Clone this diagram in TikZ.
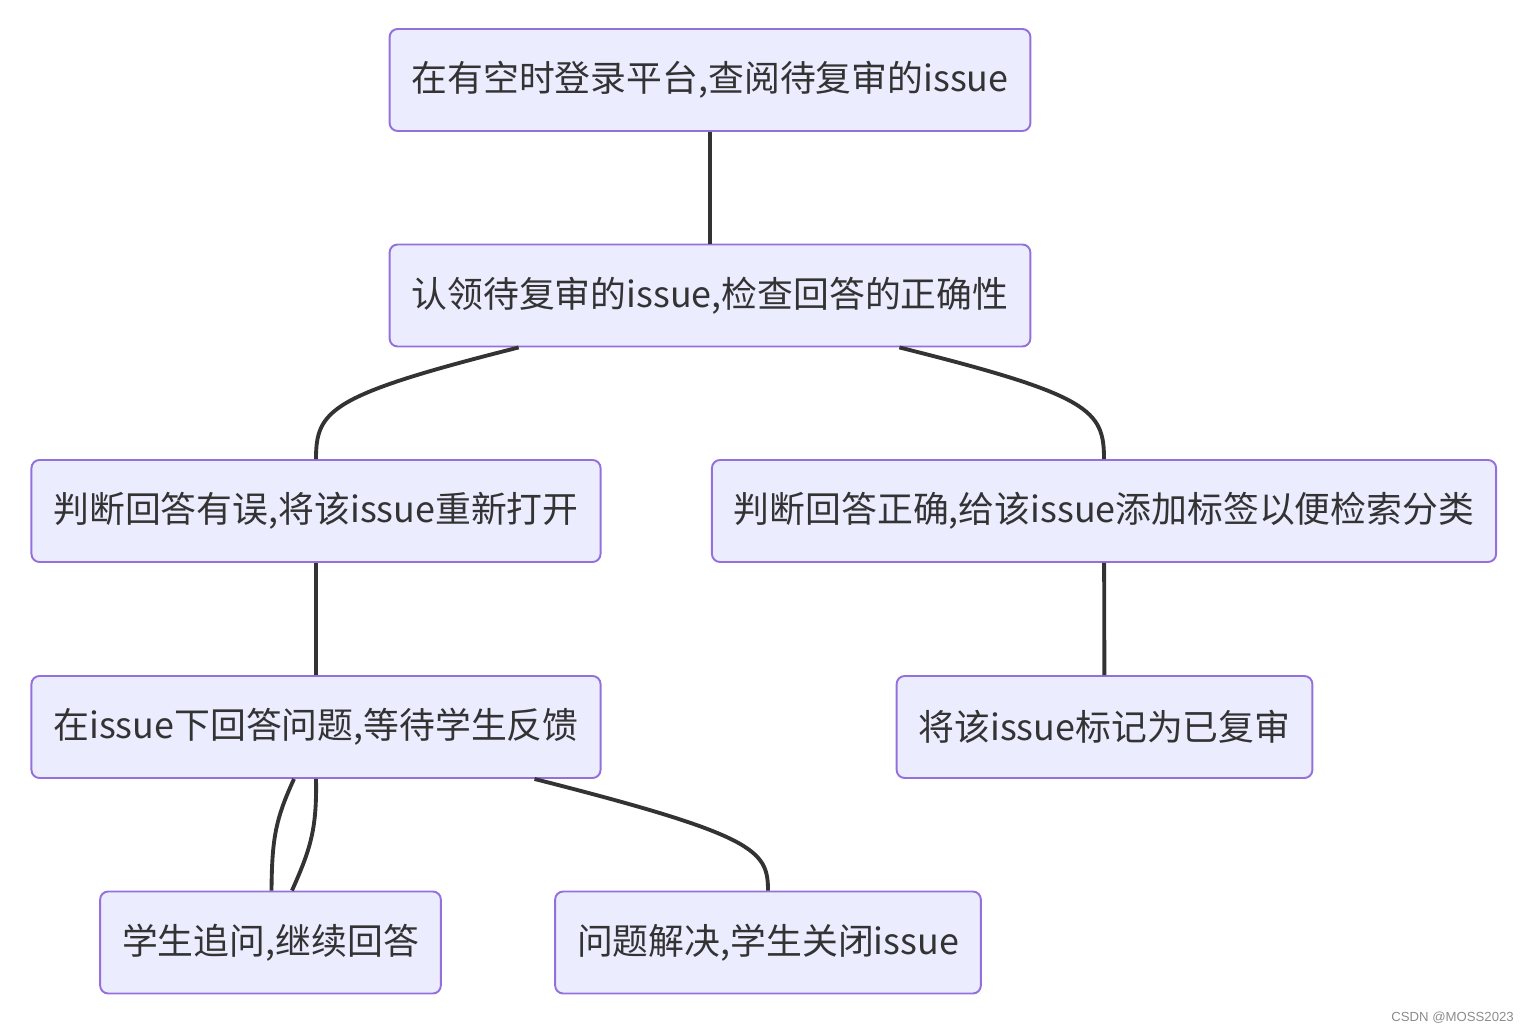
\documentclass[tikz,border=0pt]{standalone}
\usepackage{fontspec}
\newfontfamily\cjk{Noto Sans CJK SC}
\setsansfont{Liberation Sans}
\definecolor{kastenfarbe}{HTML}{ECECFF}
\definecolor{randfarbe}{HTML}{9370DB}
\definecolor{linienfarbe}{HTML}{333333}
\tikzset{
    kasten/.style={draw=randfarbe, fill=kastenfarbe, line width=1.1pt, rounded corners=0.16cm,
        minimum height=2.04cm, inner xsep=0.44cm, text=linienfarbe,
        font=\cjk\fontsize{20.4}{24}\selectfont},
    linie/.style={draw=linienfarbe, line width=2.2pt}
}
\begin{document}
\begin{tikzpicture}[x=0.02cm, y=-0.02cm]
        \useasboundingbox (0,0) rectangle (1530,1033);

        % Kaesten
        \node [kasten] (anmelden) at (710,80) {在有空时登录平台,查阅待复审的issue};
        \node [kasten] (pruefen) at (710,295.5) {认领待复审的issue,检查回答的正确性};
        \node [kasten] (falsch) at (316,511) {判断回答有误,将该issue重新打开};
        \node [kasten] (richtig) at (1104,511) {判断回答正确,给该issue添加标签以便检索分类};
        \node [kasten] (antwort) at (316,727) {在issue下回答问题,等待学生反馈};
        \node [kasten] (markiert) at (1104.5,727) {将该issue标记为已复审};
        \node [kasten] (nachfrage) at (270.5,942.5) {学生追问,继续回答};
        \node [kasten] (geloest) at (768,942.5) {问题解决,学生关闭issue};

        % Verbindungen, gerade
        \draw [linie] (anmelden) -- (pruefen);
        \draw [linie] (falsch) -- (antwort);
        \draw [linie] (richtig) -- (markiert);

        % Verbindungen, gebogen
        \draw [linie] ([xshift=2.6cm]pruefen.south west) .. controls (330,395) and (316,410) .. (falsch.north);
        \draw [linie] ([xshift=-2.64cm]pruefen.south east) .. controls (1090,395) and (1104,410) .. (richtig.north);
        \draw [linie] ([xshift=-0.44cm]antwort.south) .. controls (275,820) and (272,840) .. ([xshift=0.02cm]nachfrage.north);
        \draw [linie] (antwort.south) .. controls (317,830) and (310,850) .. ([xshift=0.43cm]nachfrage.north);
        \draw [linie] ([xshift=-1.34cm]antwort.south east) .. controls (755,835) and (768,850) .. (geloest.north);

        %Wasserzeichen
        \node [anchor=east, text=black!45, font=\sffamily\fontsize{7.5}{9}\selectfont] (quelle) at (1520,1018) {CSDN @MOSS2023};
\end{tikzpicture}
\end{document}
